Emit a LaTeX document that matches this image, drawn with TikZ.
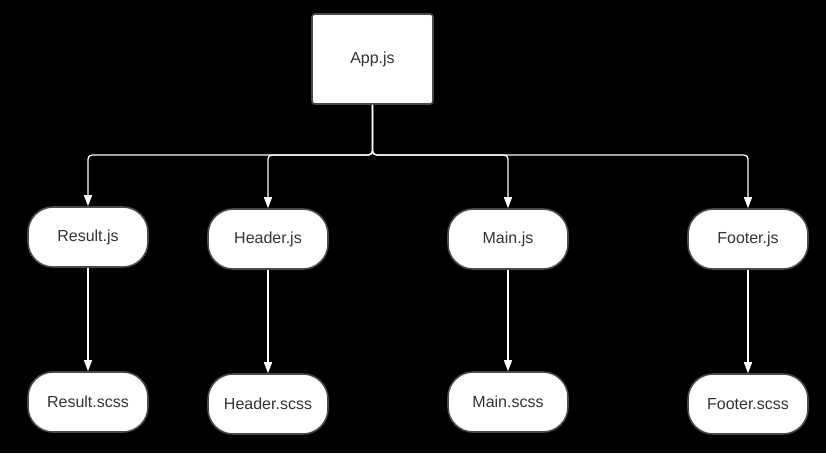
\documentclass[tikz,border=0pt]{standalone}
\usepackage{fontspec}
\setmainfont{Liberation Sans}
\usetikzlibrary{arrows.meta}
\definecolor{bordergray}{HTML}{4A4A4A}
\definecolor{textgray}{HTML}{333333}
\tikzset{
  filebox/.style={draw=bordergray, line width=1.6pt, fill=white, rounded corners=25pt,
    minimum width=120pt, minimum height=60pt, inner sep=0pt, text=textgray, font=\fontsize{16}{18}\selectfont},
  rootbox/.style={draw=bordergray, line width=1.6pt, fill=white, rounded corners=3pt,
    minimum width=121pt, minimum height=90pt, inner sep=0pt, text=textgray, font=\fontsize{16}{18}\selectfont},
  link/.style={draw=white, line width=1.3pt, -{Triangle[length=11pt,width=8pt]}, rounded corners=4pt}
}
\begin{document}
\begin{tikzpicture}[x=1pt,y=-1pt]
\fill[black] (0,0) rectangle (826,453);
\useasboundingbox (0,0) rectangle (826,453);
\node[rootbox] (app) at (372.5,59) {App.js};
\node[filebox] (result) at (88,237) {Result.js};
\node[filebox] (header) at (268,239) {Header.js};
\node[filebox] (main) at (508,239) {Main.js};
\node[filebox] (footer) at (748,239) {Footer.js};
\node[filebox] (results) at (88,402) {Result.scss};
\node[filebox] (headers) at (268,404) {Header.scss};
\node[filebox] (mains) at (508,402) {Main.scss};
\node[filebox] (footers) at (748,404) {Footer.scss};
\coordinate (bus) at (372.5,155);
\foreach \n in {result,header,main,footer}{
  \draw[link] (app.south) -- (bus) -| (\n.north);
}
\draw[link] (result.south) -- (results.north);
\draw[link] (header.south) -- (headers.north);
\draw[link] (main.south) -- (mains.north);
\draw[link] (footer.south) -- (footers.north);
\end{tikzpicture}
\end{document}
